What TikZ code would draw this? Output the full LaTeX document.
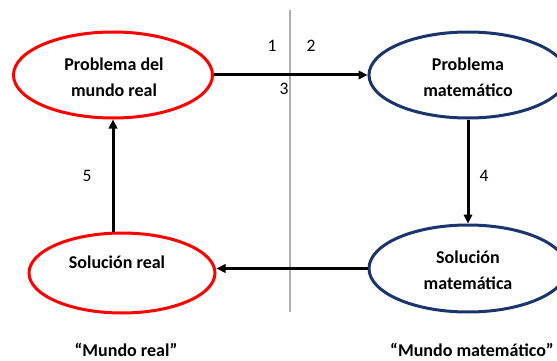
\documentclass[tikz,border=0pt]{standalone}
\usepackage{fontspec}
\setmainfont{Carlito}
\usetikzlibrary{shapes.geometric,arrows.meta}
\definecolor{navy}{RGB}{28,52,108}
\definecolor{redline}{RGB}{255,0,0}
\definecolor{divider}{RGB}{175,175,175}
\tikzset{
  realbox/.style={ellipse,draw=redline,line width=3pt,inner sep=0pt},
  mathbox/.style={ellipse,draw=navy,line width=3pt,inner sep=0pt},
  boxtext/.style={align=center,font=\fontsize{18}{26}\selectfont\bfseries,inner sep=0pt},
  numlabel/.style={font=\fontsize{17.5}{20}\selectfont,inner sep=0pt},
  worldlabel/.style={font=\fontsize{18}{20}\selectfont\bfseries,inner sep=0pt},
  arr/.style={line width=3pt,-{Triangle[length=9pt,width=8.5pt]}},
}
\begin{document}
\begin{tikzpicture}[x=1pt,y=-1pt]
\useasboundingbox (0,0) rectangle (557,361);
% divider line
\coordinate (dtop) at (290,10);
\coordinate (dbot) at (290,312);
\draw[divider,line width=1.4pt] (dtop) -- (dbot);
% ellipses
\node[realbox,minimum width=199pt,minimum height=86pt] (e1) at (113,75) {};
\node[boxtext] (t1) at (114,77) {Problema del\\mundo real};
\node[mathbox,minimum width=198pt,minimum height=86pt] (e2) at (468,75) {};
\node[boxtext] (t2) at (468,77) {Problema\\matemático};
\node[realbox,minimum width=186pt,minimum height=80pt] (e3) at (122,273) {};
\node[boxtext] (t3) at (117,262) {Solución real};
\node[mathbox,minimum width=198pt,minimum height=87pt] (e4) at (468,268.5) {};
\node[boxtext] (t4) at (468,270) {Solución\\matemática};
% connectors
\draw[arr] (e1.east) -- (e2.west);
\draw[arr] (e2.south) -- (e4.north);
\draw[arr] (e4.west) -- (e3.east |- e4.west);
\draw[arr] (e1.south |- e3.north) -- (e1.south);
% numbers
\node[numlabel] (n1) at (272,46) {1};
\node[numlabel] (n2) at (311,46) {2};
\node[numlabel] (n3) at (284,89) {3};
\node[numlabel] (n4) at (484,176) {4};
\node[numlabel] (n5) at (87,176) {5};
% world labels
\node[worldlabel] (w1) at (126,350) {“Mundo real”};
\node[worldlabel] (w2) at (472,350) {“Mundo matemático”};
\end{tikzpicture}
\end{document}
